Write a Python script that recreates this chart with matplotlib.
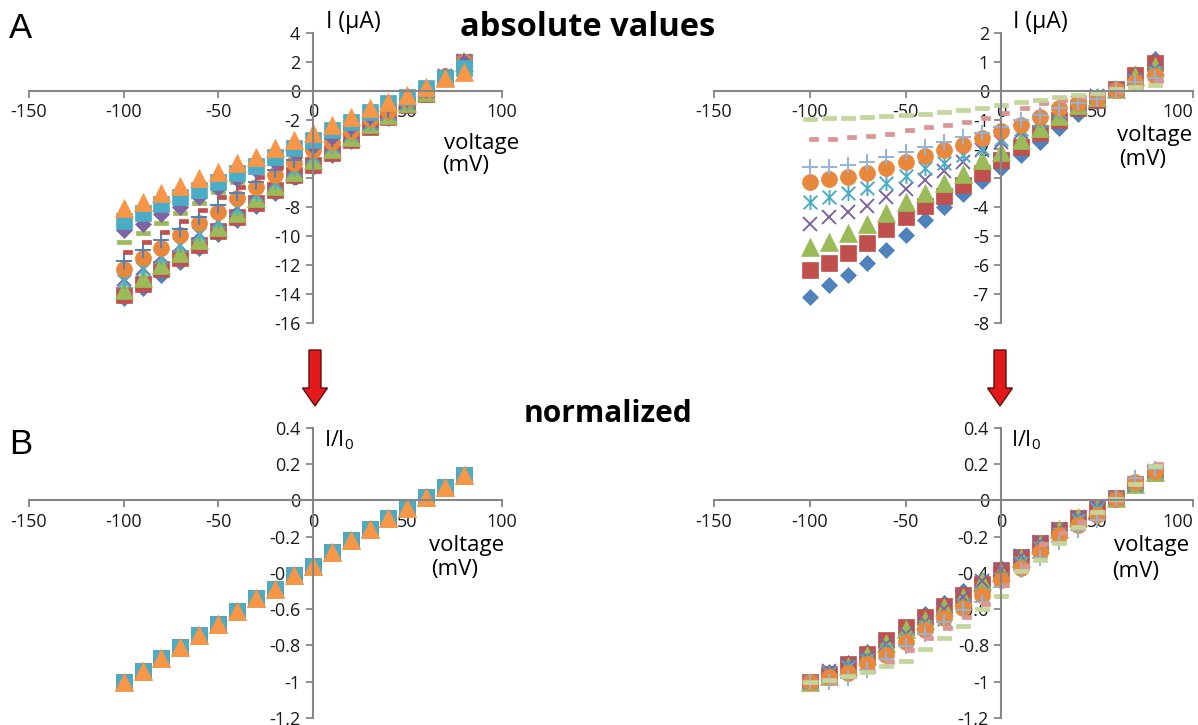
import numpy as np
import matplotlib
matplotlib.use("Agg")
from matplotlib import pyplot as plt
from matplotlib.path import Path
from matplotlib.patches import FancyArrow

plt.rcParams['font.family'] = ['Open Sans', 'DejaVu Sans']
plt.rcParams['axes.unicode_minus'] = False

# ================= DATA =================
volt = [-100, -90, -80, -70, -60, -50, -40, -30, -20, -10, 0, 10, 20, 30, 40, 50, 60, 70, 80]

# panel A left: absolute currents (uA), 12 series
a1 = [-14.3, -13.6, -12.7, -11.8, -10.85, -9.86, -8.9, -7.93, -7.06, -5.95, -5.22, -4.4, -3.45, -2.5, -1.85, -0.98, -0.2, 0.9, 1.95]
a2 = [-14.1, -13.3, -12.3, -11.5, -10.6, -9.63, -8.67, -7.7, -6.83, -5.79, -5.1, -4.3, -3.38, -2.46, -1.8, -0.95, -0.18, 0.92, 1.97]
a3 = [-13.7, -12.9, -12.0, -11.2, -10.3, -9.36, -8.39, -7.4, -6.55, -5.56, -4.76, -4.0, -3.15, -2.3, -1.65, -0.85, -0.1, 0.95, 2.0]
a4 = [-13.0, -12.2, -11.4, -10.6, -9.8, -8.94, -7.98, -7.06, -6.25, -5.33, -4.45, -3.75, -2.95, -2.15, -1.5, -0.75, 0.0, 1.0, 2.05]
a5 = [-13.1, -12.25, -11.45, -10.65, -9.85, -9.0, -8.05, -7.1, -6.3, -5.38, -4.5, -3.8, -3.0, -2.2, -1.55, -0.8, -0.03, 0.98, 2.03]
a6 = [-12.3, -11.5, -10.85, -9.93, -9.13, -8.32, -7.4, -6.6, -5.79, -4.99, -4.07, -3.55, -2.75, -1.95, -1.4, -0.65, 0.05, 1.02, 2.02]
a7 = [-11.7, -11.0, -10.3, -9.54, -8.67, -7.86, -7.06, -6.25, -5.45, -4.76, -3.9, -3.3, -2.6, -1.85, -1.3, -0.6, 0.08, 1.05, 2.08]
a8 = [-11.1, -10.4, -9.7, -8.97, -8.2, -7.33, -6.64, -5.91, -5.22, -4.48, -3.7, -3.1, -2.45, -1.75, -1.2, -0.55, 0.1, 1.1, 2.1]
a9 = [-10.4, -9.77, -9.08, -8.44, -7.7, -6.94, -6.25, -5.56, -4.99, -4.3, -3.6, -3.0, -2.35, -1.65, -1.1, -0.5, 0.12, 1.1, 2.08]
a10 = [-9.6, -9.17, -8.48, -7.98, -7.33, -6.71, -6.09, -5.45, -4.87, -4.18, -3.79, -3.2, -2.5, -1.75, -1.0, -0.45, 0.15, 1.05, 2.0]
a11 = [-8.94, -8.44, -7.79, -7.29, -6.83, -6.25, -5.68, -5.17, -4.57, -3.95, -3.38, -2.69, -2.11, -1.43, -0.85, -0.39, 0.18, 0.87, 1.57]
a12 = [-8.09, -7.63, -7.06, -6.55, -6.02, -5.56, -4.99, -4.53, -3.95, -3.38, -2.92, -2.34, -1.82, -1.2, -0.74, -0.28, 0.25, 0.87, 1.33]

# panel A right: absolute currents (uA), 9 series
b1 = [-7.09, -6.69, -6.34, -5.92, -5.48, -4.97, -4.45, -4.0, -3.55, -3.1, -2.65, -2.2, -1.75, -1.27, -0.8, -0.38, 0.05, 0.6, 1.1]
b2 = [-6.19, -5.92, -5.57, -5.23, -4.77, -4.33, -3.97, -3.62, -3.24, -2.84, -2.38, -1.92, -1.45, -1.0, -0.6, -0.3, 0.08, 0.55, 0.95]
b3 = [-5.37, -5.2, -4.91, -4.59, -4.22, -3.82, -3.53, -3.16, -2.86, -2.38, -2.12, -1.69, -1.28, -0.85, -0.5, -0.22, 0.08, 0.5, 0.85]
b4 = [-4.59, -4.33, -4.16, -3.97, -3.64, -3.39, -3.07, -2.75, -2.45, -2.05, -1.75, -1.4, -1.05, -0.72, -0.42, -0.17, 0.05, 0.4, 0.75]
b5 = [-3.82, -3.64, -3.51, -3.36, -3.16, -2.93, -2.67, -2.49, -2.21, -1.95, -1.65, -1.32, -1.0, -0.7, -0.42, -0.17, 0.05, 0.35, 0.62]
b6 = [-3.13, -3.05, -2.98, -2.82, -2.67, -2.44, -2.24, -2.03, -1.86, -1.63, -1.38, -1.17, -0.89, -0.6, -0.43, -0.25, 0.03, 0.32, 0.5]
b7 = [-2.61, -2.61, -2.55, -2.44, -2.29, -2.09, -1.92, -1.75, -1.57, -1.46, -1.25, -1.0, -0.83, -0.6, -0.43, -0.28, 0.03, 0.32, 0.45]
b8 = [-1.65, -1.65, -1.6, -1.55, -1.47, -1.36, -1.25, -1.16, -1.06, -0.94, -0.77, -0.6, -0.4, -0.3, -0.2, -0.1, 0.0, 0.15, 0.33]
b9 = [-0.95, -0.94, -0.92, -0.9, -0.87, -0.84, -0.78, -0.72, -0.66, -0.57, -0.5, -0.37, -0.31, -0.22, -0.14, -0.06, 0.06, 0.15, 0.21]

# panel B left: normalized (all series collapse)
na = [-1.0, -0.94, -0.87, -0.81, -0.745, -0.68, -0.61, -0.54, -0.49, -0.41, -0.36, -0.285, -0.22, -0.156, -0.096, -0.04, 0.018, 0.073, 0.138]

# panel B right: normalized, 9 series
nb1 = [-1.0, -0.944, -0.894, -0.835, -0.773, -0.701, -0.628, -0.564, -0.501, -0.437, -0.374, -0.31, -0.247, -0.179, -0.113, -0.054, 0.007, 0.085, 0.155]
nb2 = [-1.0, -0.956, -0.9, -0.845, -0.771, -0.7, -0.641, -0.585, -0.523, -0.459, -0.384, -0.31, -0.234, -0.162, -0.097, -0.048, 0.013, 0.089, 0.153]
nb3 = [-1.0, -0.968, -0.914, -0.855, -0.786, -0.711, -0.657, -0.588, -0.533, -0.443, -0.395, -0.315, -0.238, -0.158, -0.093, -0.041, 0.015, 0.093, 0.158]
nb4 = [-1.0, -0.943, -0.906, -0.865, -0.793, -0.739, -0.669, -0.599, -0.534, -0.447, -0.381, -0.305, -0.229, -0.157, -0.092, -0.037, 0.011, 0.087, 0.163]
nb5 = [-1.0, -0.953, -0.919, -0.88, -0.827, -0.767, -0.699, -0.652, -0.579, -0.51, -0.432, -0.346, -0.262, -0.183, -0.11, -0.045, 0.013, 0.092, 0.162]
nb6 = [-1.0, -0.974, -0.952, -0.901, -0.853, -0.78, -0.716, -0.649, -0.594, -0.521, -0.441, -0.374, -0.284, -0.192, -0.137, -0.08, 0.01, 0.102, 0.16]
nb7 = [-1.0, -1.0, -0.977, -0.935, -0.877, -0.801, -0.736, -0.67, -0.602, -0.559, -0.479, -0.383, -0.318, -0.23, -0.165, -0.107, 0.011, 0.123, 0.172]
nb8 = [-1.0, -1.0, -0.97, -0.939, -0.891, -0.824, -0.758, -0.703, -0.642, -0.57, -0.467, -0.364, -0.242, -0.182, -0.121, -0.061, 0.0, 0.091, 0.2]
nb9 = [-1.0, -0.989, -0.968, -0.947, -0.916, -0.884, -0.821, -0.758, -0.695, -0.6, -0.526, -0.389, -0.326, -0.232, -0.147, -0.063, 0.01, 0.09, 0.19]

# ================= MARKERS =================
star = Path([(-0.5, -0.5), (0.5, 0.5), (-0.5, 0.5), (0.5, -0.5), (0, -0.55), (0, 0.55)],
            [Path.MOVETO, Path.LINETO] * 3)
long_dash = Path([(-5, -1.45), (5, -1.45), (5, 1.45), (-5, 1.45), (-5, -1.45)],
                 [Path.MOVETO, Path.LINETO, Path.LINETO, Path.LINETO, Path.CLOSEPOLY])
short_dash = Path([(-0.4, -1.45), (5.4, -1.45), (5.4, 1.45), (-0.4, 1.45), (-0.4, -1.45)],
                  [Path.MOVETO, Path.LINETO, Path.LINETO, Path.LINETO, Path.CLOSEPOLY])

# (marker, size, color, filled)
style_l = [('D', 8.2, '#4F81BD', True), ('s', 11.3, '#C0504D', True), ('^', 12.3, '#9BBB59', True),
           ('x', 10, '#8064A2', False), (star, 10.8, '#4BACC6', False), ('o', 11.5, '#E8883C', True),
           ('+', 11.5, '#4F81BD', False), (short_dash, 11, '#C0504D', True), (long_dash, 10.5, '#9BBB59', True),
           ('D', 8.2, '#8064A2', True), ('s', 11.3, '#4BACC6', True), ('^', 12.3, '#F79646', True)]
style_r = [('D', 8.2, '#4F81BD', True), ('s', 11.3, '#C0504D', True), ('^', 12.3, '#9BBB59', True),
           ('x', 10, '#8064A2', False), (star, 10.8, '#4BACC6', False), ('o', 11.5, '#E8883C', True),
           ('+', 11.5, '#95B3D7', False), (short_dash, 11, '#D99694', True), (long_dash, 10.5, '#C3D69B', True)]

GRAY = '#868686'


def setup(ax, ylo, yhi, ystep, fmt, shift_last=False):
    ax.set_xlim(-150, 100)
    ax.set_ylim(ylo, yhi)
    ax.spines['left'].set_position(('data', 0))
    ax.spines['bottom'].set_position(('data', 0))
    ax.spines['top'].set_visible(False)
    ax.spines['right'].set_visible(False)
    for s in ('left', 'bottom'):
        ax.spines[s].set_color(GRAY)
        ax.spines[s].set_linewidth(1.5)
    ax.set_xticks(np.arange(-150, 101, 50))
    yt = np.arange(ylo, yhi + ystep / 2, ystep)
    ax.set_yticks(yt)
    ax.set_yticklabels([fmt(v) for v in yt])
    ax.tick_params(direction='out', length=5, width=1.3, color=GRAY,
                   labelsize=13, labelcolor='#1a1a1a', pad=4)
    ax.patch.set_alpha(0)
    if shift_last:
        ax.get_xticklabels()[-1].set_horizontalalignment('right')


def draw(ax, series, styles):
    for ys, (m, ms, c, filled) in zip(series, styles):
        if filled:
            ax.plot(volt, ys, linestyle='none', marker=m, markersize=ms,
                    markerfacecolor=c, markeredgecolor=c, markeredgewidth=0.5, clip_on=False)
        else:
            ax.plot(volt, ys, linestyle='none', marker=m, markersize=ms,
                    color=c, markeredgewidth=1.4, clip_on=False)


def fmt_int(v):
    return '%d' % round(v)


def fmt_dec(v):
    v = round(v, 1)
    if abs(v) < 1e-9:
        return '0'
    if abs(v - round(v)) < 1e-9:
        return '%d' % round(v)
    return ('%.1f' % v)


fig = plt.figure(figsize=(11.98, 7.25), dpi=100)

ax_tl = fig.add_axes([0.0242, 0.5545, 0.3948, 0.4])
ax_tr = fig.add_axes([0.596, 0.5545, 0.3998, 0.4])
ax_bl = fig.add_axes([0.0242, 0.0097, 0.3948, 0.4])
ax_br = fig.add_axes([0.596, 0.0097, 0.3998, 0.4])

setup(ax_tl, -16, 4, 2, fmt_int)
setup(ax_tr, -8, 2, 1, fmt_int, shift_last=True)
setup(ax_bl, -1.2, 0.4, 0.2, fmt_dec)
setup(ax_br, -1.2, 0.4, 0.2, fmt_dec, shift_last=True)

draw(ax_tl, [a1, a2, a3, a4, a5, a6, a7, a8, a9, a10, a11, a12], style_l)
draw(ax_tr, [b1, b2, b3, b4, b5, b6, b7, b8, b9], style_r)
draw(ax_bl, [na] * 12, style_l)
draw(ax_br, [nb1, nb2, nb3, nb4, nb5, nb6, nb7, nb8, nb9], style_r)

W, H = 1198.0, 725.0


def ftext(px, py, s, **kw):
    fig.text(px / W, 1 - py / H, s, **kw)


# axis labels
ftext(326, 22, 'I (μA)', fontsize=16.5, va='center', ha='left')
ftext(1013, 22, 'I (μA)', fontsize=16.5, va='center', ha='left')
ftext(444, 143, 'voltage', fontsize=16, va='center', ha='left')
ftext(442, 166, '(mV)', fontsize=16, va='center', ha='left')
ftext(1117, 136, 'voltage', fontsize=16, va='center', ha='left')
ftext(1119, 160, '(mV)', fontsize=16, va='center', ha='left')
ftext(324, 440, r'I/I$_\mathregular{0}$', fontsize=15.5, va='center', ha='left')
ftext(1011, 440, r'I/I$_\mathregular{0}$', fontsize=15.5, va='center', ha='left')
ftext(429, 546, 'voltage', fontsize=16, va='center', ha='left')
ftext(431, 570, '(mV)', fontsize=16, va='center', ha='left')
ftext(1114, 546, 'voltage', fontsize=16, va='center', ha='left')
ftext(1112, 571, '(mV)', fontsize=16, va='center', ha='left')

# panel letters and headings
ftext(9, 28, 'A', fontsize=25, va='center', ha='left', family=['Liberation Sans'])
ftext(9, 445, 'B', fontsize=25, va='center', ha='left', family=['Liberation Sans'])
ftext(588, 27, 'absolute values', fontsize=23.5, fontweight='bold', va='center', ha='center')
ftext(608, 414, 'normalized', fontsize=21.5, fontweight='bold', va='center', ha='center')

# red arrows between rows
for px in (315, 1000):
    arr = FancyArrow(px / 100.0, (H - 350) / 100.0, 0, -0.56, width=0.12,
                     head_width=0.25, head_length=0.18, length_includes_head=True,
                     facecolor='#E3191C', edgecolor='#5a1010', linewidth=1.0,
                     transform=fig.dpi_scale_trans)
    fig.patches.append(arr)

fig.savefig('out.png', dpi=100)
